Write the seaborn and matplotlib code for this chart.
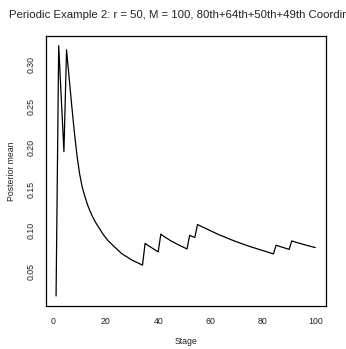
import numpy as np
import pandas as pd
import seaborn as sns
import matplotlib.pyplot as plt

# posterior mean per stage
stage = list(range(1, 101))
posterior_mean = [
    0.0207, 0.323, 0.259, 0.195, 0.318, 0.284, 0.250, 0.218, 0.190, 0.168,
    0.152, 0.141, 0.131, 0.123, 0.116, 0.110, 0.105, 0.100, 0.095, 0.091,
    0.087, 0.084, 0.081, 0.078, 0.075, 0.072, 0.070, 0.068, 0.066, 0.064,
    0.0625, 0.061, 0.0595, 0.058, 0.0843, 0.082, 0.080, 0.078, 0.076, 0.074,
    0.0955, 0.093, 0.091, 0.089, 0.087, 0.0853, 0.0837, 0.0821, 0.0806, 0.079,
    0.0775, 0.094, 0.0925, 0.0915, 0.107, 0.1055, 0.104, 0.1025, 0.101, 0.0995,
    0.098, 0.0965, 0.095, 0.0937, 0.0924, 0.0911, 0.0898, 0.0885, 0.0873, 0.0861,
    0.0849, 0.0838, 0.0827, 0.0816, 0.0805, 0.0795, 0.0785, 0.0775, 0.0765, 0.0755,
    0.0745, 0.0735, 0.0725, 0.0715, 0.082, 0.081, 0.080, 0.079, 0.078, 0.077,
    0.0872, 0.0862, 0.0852, 0.0843, 0.0834, 0.0825, 0.0816, 0.0808, 0.0800, 0.0792,
]
x_ticks = [0, 20, 40, 60, 80, 100]
y_ticks = [0.05, 0.10, 0.15, 0.20, 0.25, 0.30]
title = "Periodic Example 2: r = 50, M = 100, 80th+64th+50th+49th Coordinates"

df = pd.DataFrame({"Stage": stage, "Posterior mean": posterior_mean})

sns.set_style("white")
plt.rcParams["font.family"] = ["Liberation Sans", "DejaVu Sans"]

W, H = 346, 349
fig = plt.figure(figsize=(W / 100, H / 100), dpi=100)
L, R, T, B = 45.7, 325.7, 35.7, 306.0
ax = fig.add_axes([L / W, 1 - B / H, (R - L) / W, (B - T) / H])

sns.lineplot(data=df, x="Stage", y="Posterior mean", ax=ax, color="black", linewidth=0.9)

# R style 4% padding
xr = max(stage) - min(stage)
yr = max(posterior_mean) - min(posterior_mean)
ax.set_xlim(min(stage) - 0.04 * xr, max(stage) + 0.04 * xr)
ax.set_ylim(min(posterior_mean) - 0.04 * yr, max(posterior_mean) + 0.04 * yr)

fs = 6.3
ax.set_xticks(x_ticks)
ax.set_xticklabels([str(v) for v in x_ticks])
ax.set_yticks(y_ticks)
ax.set_yticklabels([f"{v:.2f}" for v in y_ticks], rotation=90, va="center")
ax.tick_params(axis="both", direction="out", length=3.4, width=0.75, color="black",
               labelsize=fs, labelcolor="#222222")
ax.tick_params(axis="x", pad=4.5)
ax.tick_params(axis="y", pad=3.5)

for sp in ax.spines.values():
    sp.set_visible(True)
    sp.set_color("black")
    sp.set_linewidth(0.9)

ax.set_xlabel("Stage", fontsize=fs, color="#222222")
ax.set_ylabel("Posterior mean", fontsize=fs, color="#222222")
ax.xaxis.label.set_va("center")
ax.yaxis.label.set_va("center")
ax.xaxis.set_label_coords(0.5, (B - 342.0) / (B - T))
ax.yaxis.set_label_coords((11.5 - L) / (R - L), 0.5)

fig.text(9.3 / W, 1 - 15.5 / H, title, ha="left", va="center", fontsize=8.2, color="#222222")

fig.savefig("out.png", dpi=100)
